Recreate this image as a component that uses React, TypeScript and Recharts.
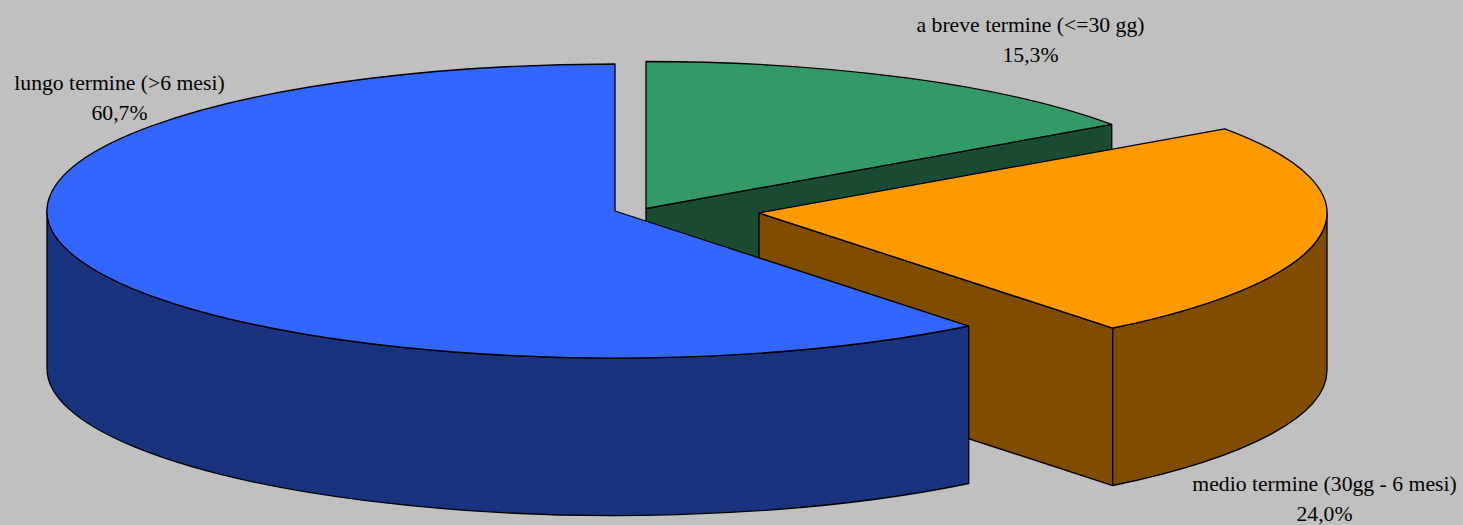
import { PieChart, Pie } from 'recharts';

const categories = ['a breve termine (<=30 gg)', 'medio termine (30gg - 6 mesi)', 'lungo termine (>6 mesi)'];
const shares = [15.3, 24.0, 60.7];

const data = categories.map((name, i) => ({ name, value: shares[i] }));

const WIDTH = 1463;
const HEIGHT = 525;
const CX = 615;
const CY = 211;
const RX = 568;
const RY = 147;
const DEPTH = 157.5;

// per slice look, same order as categories
const topColors = ['#339966', '#FF9900', '#3366FF'];
const sideColors = ['#194C33', '#7F4C00', '#19337F'];
const explode = [
  { dx: 31, dy: -2.5 },
  { dx: 144, dy: 2 },
  { dx: 0, dy: 0 },
];
const labelSpots = [
  { x: 1030.5, y: 32 },
  { x: 1324.5, y: 491 },
  { x: 119.5, y: 90 },
];

const rad = (deg: number) => (deg * Math.PI) / 180;

function EllipticSlice(props: any) {
  const { startAngle, endAngle, cx, cy, name } = props;
  const i = categories.indexOf(name);
  const x0 = cx + explode[i].dx;
  const y0 = cy + explode[i].dy;
  const pt = (a: number, drop = 0) => ({
    x: x0 + RX * Math.cos(rad(a)),
    y: y0 - RY * Math.sin(rad(a)) + drop,
  });

  const from = pt(startAngle);
  const to = pt(endAngle);
  const large = startAngle - endAngle > 180 ? 1 : 0;
  const top = `M${x0},${y0} L${from.x},${from.y} A${RX},${RY} 0 ${large} 1 ${to.x},${to.y} Z`;

  // the part of the rim that faces the viewer is the lower half of the ellipse
  const rimStart = Math.min(startAngle, 0);
  const rimEnd = Math.max(endAngle, -180);
  let rim = null;
  if (rimStart > rimEnd) {
    const a = pt(rimStart);
    const b = pt(rimEnd);
    const a2 = pt(rimStart, DEPTH);
    const b2 = pt(rimEnd, DEPTH);
    rim = `M${a.x},${a.y} A${RX},${RY} 0 0 1 ${b.x},${b.y} L${b2.x},${b2.y} A${RX},${RY} 0 0 0 ${a2.x},${a2.y} Z`;
  }

  // cut face at the clockwise end of the slice
  let cut = null;
  if (Math.cos(rad(endAngle)) > 0.001) {
    const e2 = pt(endAngle, DEPTH);
    cut = `M${x0},${y0} L${to.x},${to.y} L${e2.x},${e2.y} L${x0},${y0 + DEPTH} Z`;
  }

  return (
    <g stroke="#000" strokeWidth={1.3} strokeLinejoin="round">
      {cut && <path d={cut} fill={sideColors[i]} />}
      {rim && <path d={rim} fill={sideColors[i]} />}
      <path d={top} fill={topColors[i]} />
    </g>
  );
}

function SliceLabel(props: any) {
  const i = categories.indexOf(props.name);
  const spot = labelSpots[i];
  const pct = shares[i].toFixed(1).replace('.', ',') + '%';
  return (
    <text
      x={spot.x}
      y={spot.y}
      textAnchor="middle"
      fontFamily="'Liberation Serif', serif"
      fontSize={21.7}
      fill="#000"
      stroke="none"
    >
      <tspan x={spot.x}>{props.name}</tspan>
      <tspan x={spot.x} dy={30}>{pct}</tspan>
    </text>
  );
}

export default function App() {
  return (
    <div style={{ position: 'absolute', left: 0, top: 0, width: WIDTH, height: HEIGHT, background: '#C0C0C0' }}>
      <PieChart width={WIDTH} height={HEIGHT} margin={{ top: 0, right: 0, bottom: 0, left: 0 }}>
        <Pie
          data={data}
          dataKey="value"
          nameKey="name"
          cx={CX}
          cy={CY}
          outerRadius={RX}
          innerRadius={0}
          startAngle={90}
          endAngle={-270}
          paddingAngle={0}
          stroke="none"
          shape={EllipticSlice}
          label={SliceLabel}
          labelLine={false}
          isAnimationActive={false}
        />
      </PieChart>
    </div>
  );
}
